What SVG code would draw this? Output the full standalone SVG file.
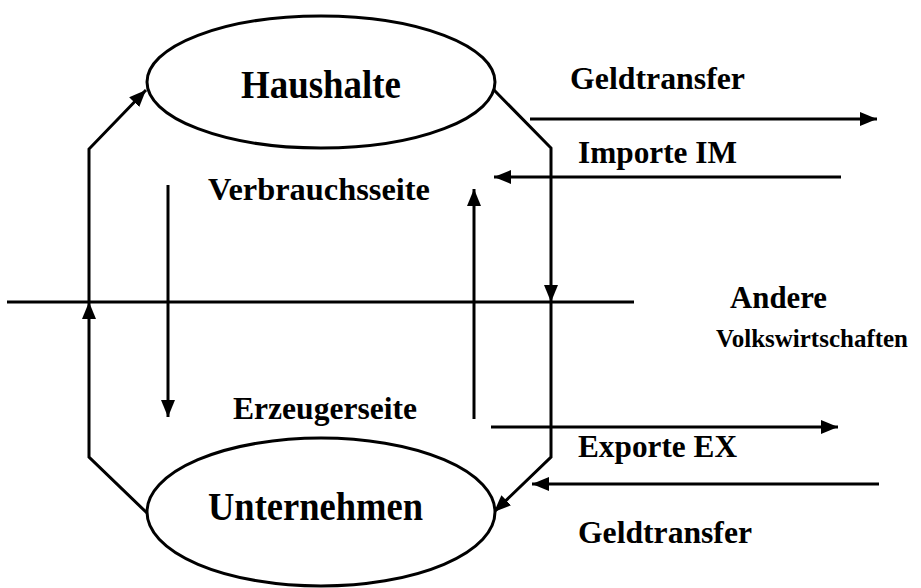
<svg xmlns="http://www.w3.org/2000/svg" width="921" height="588" viewBox="0 0 921 588">
<style>
  .shape { fill: #fff; stroke: #000; stroke-width: 3; }
  .ln { fill: none; stroke: #000; stroke-width: 3; }
  .arr { fill: none; stroke: #000; stroke-width: 3; marker-end: url(#ah); }
  text { font-family: 'Liberation Serif', Tinos, 'Times New Roman', 'DejaVu Serif', serif; font-weight: bold; fill: #000; }
  .big { font-size: 39px; }
  .lbl { font-size: 31px; }
  .sm { font-size: 26px; }
</style>
<defs>
  <marker id="ah" markerUnits="userSpaceOnUse" markerWidth="18" markerHeight="14" refX="17" refY="7" orient="auto">
    <path d="M0,0 L17,7 L0,14 z" fill="#000"/>
  </marker>
</defs>
<rect width="921" height="588" fill="#fff"/>

<g id="connectors">
  <line class="ln" x1="7" y1="302" x2="634" y2="302"/>
  <polyline class="arr" points="147,513 89,457 89,302"/>
  <polyline class="arr" points="89,302 89,149 146,90"/>
  <polyline class="arr" points="494,90 551,148 551,302"/>
  <polyline class="arr" points="551,302 551,457 494,512"/>
  <line class="arr" x1="168" y1="185" x2="168" y2="417"/>
  <line class="arr" x1="474" y1="419" x2="474" y2="189"/>
  <line class="arr" x1="530" y1="119" x2="877" y2="119"/>
  <line class="arr" x1="841" y1="177" x2="494" y2="177"/>
  <line class="arr" x1="491" y1="427" x2="838" y2="427"/>
  <line class="arr" x1="879" y1="484" x2="532" y2="484"/>
</g>

<g id="haushalte">
  <ellipse class="shape" cx="321" cy="82" rx="174" ry="66"/>
  <text class="big" x="241" y="98" textLength="160" lengthAdjust="spacingAndGlyphs">Haushalte</text>
</g>

<g id="unternehmen">
  <ellipse class="shape" cx="321" cy="512" rx="174" ry="74"/>
  <text class="big" x="208" y="520" textLength="215" lengthAdjust="spacingAndGlyphs">Unternehmen</text>
</g>

<g id="labels">
  <text class="lbl" x="208" y="200" textLength="222" lengthAdjust="spacingAndGlyphs">Verbrauchsseite</text>
  <text class="lbl" x="233" y="419" textLength="184" lengthAdjust="spacingAndGlyphs">Erzeugerseite</text>
  <text class="lbl" x="570" y="89" textLength="175" lengthAdjust="spacingAndGlyphs">Geldtransfer</text>
  <text class="lbl" x="578" y="163" textLength="159" lengthAdjust="spacingAndGlyphs">Importe IM</text>
  <text class="lbl" x="578" y="457" textLength="159" lengthAdjust="spacingAndGlyphs">Exporte EX</text>
  <text class="lbl" x="578" y="543" textLength="174" lengthAdjust="spacingAndGlyphs">Geldtransfer</text>
  <text class="lbl" x="730" y="308" textLength="97" lengthAdjust="spacingAndGlyphs">Andere</text>
  <text class="sm" x="716" y="347" textLength="192" lengthAdjust="spacingAndGlyphs">Volkswirtschaften</text>
</g>
</svg>
